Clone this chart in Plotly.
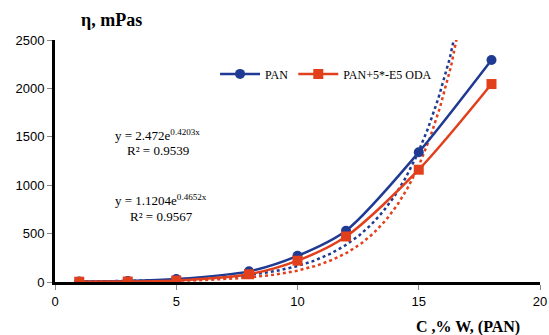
import numpy as np
import plotly.graph_objects as go

x_vals = [1, 3, 5, 8, 10, 12, 15, 18]
pan = [5, 10, 30, 110, 270, 530, 1340, 2293]
pan_oda = [3, 5, 15, 80, 220, 470, 1160, 2045]

# exponential trendline coefficients as shown on the chart
pan_fit = (2.472, 0.4203)
oda_fit = (1.1204, 0.4652)

blue = "#1f3a93"
red = "#e2401c"

xt = np.linspace(1, 18, 300)

fig = go.Figure()
fig.add_trace(go.Scatter(x=xt, y=pan_fit[0] * np.exp(pan_fit[1] * xt), mode="lines",
                         line=dict(color=blue, width=2.5, dash="dot"), showlegend=False))
fig.add_trace(go.Scatter(x=xt, y=oda_fit[0] * np.exp(oda_fit[1] * xt), mode="lines",
                         line=dict(color=red, width=2.5, dash="dot"), showlegend=False))
fig.add_trace(go.Scatter(x=x_vals, y=pan, mode="lines+markers", name="PAN",
                         line=dict(color=blue, width=2.5, shape="spline", smoothing=0.8),
                         marker=dict(symbol="circle", size=10, color=blue)))
fig.add_trace(go.Scatter(x=x_vals, y=pan_oda, mode="lines+markers", name="PAN+5*-E5 ODA",
                         line=dict(color=red, width=2.5, shape="spline", smoothing=0.8),
                         marker=dict(symbol="square", size=10, color=red)))

serif = "Liberation Serif"
fig.update_layout(
    width=549, height=335, autosize=False,
    margin=dict(l=55, r=9, t=40, b=53, pad=0),
    plot_bgcolor="white", paper_bgcolor="white",
    showlegend=True,
    legend=dict(orientation="h", x=0.33, y=0.86, xanchor="left", yanchor="middle",
                font=dict(family=serif, size=12, color="black"),
                bgcolor="rgba(0,0,0,0)", itemwidth=40, tracegroupgap=0),
    xaxis=dict(range=[0, 20], dtick=5, showgrid=False, zeroline=False,
               showline=True, linecolor="black", linewidth=3, ticks="outside",
               ticklen=5, tickcolor="#888", automargin=False,
               tickfont=dict(family="Liberation Sans", size=13, color="black")),
    yaxis=dict(range=[0, 2500], dtick=500, showgrid=False, zeroline=False,
               showline=True, linecolor="black", linewidth=3, ticks="outside",
               ticklen=5, tickcolor="#888", automargin=False,
               tickfont=dict(family="Liberation Sans", size=13, color="black")),
)

annos = [
    dict(text="<b>η, mPas</b>", x=0.05, y=1.083, xref="paper", yref="paper",
         xanchor="left", yanchor="middle", size=18),
    dict(text="<b>C ,% W, (PAN)</b>", x=0.963, y=-0.14, xref="paper", yref="paper",
         xanchor="right", yanchor="top", size=16),
    dict(text="y = 2.472e<sup>0.4203x</sup>", x=2.4, y=1520, xref="x", yref="y",
         xanchor="left", size=13),
    dict(text="R² = 0.9539", x=2.9, y=1355, xref="x", yref="y", xanchor="left", size=13),
    dict(text="y = 1.1204e<sup>0.4652x</sup>", x=2.4, y=850, xref="x", yref="y",
         xanchor="left", size=13),
    dict(text="R² = 0.9567", x=3.0, y=680, xref="x", yref="y", xanchor="left", size=13),
]
for a in annos:
    size = a.pop("size")
    fig.add_annotation(showarrow=False, font=dict(family=serif, size=size, color="black"), **a)

fig.write_html("out.html", config={"responsive": False})
